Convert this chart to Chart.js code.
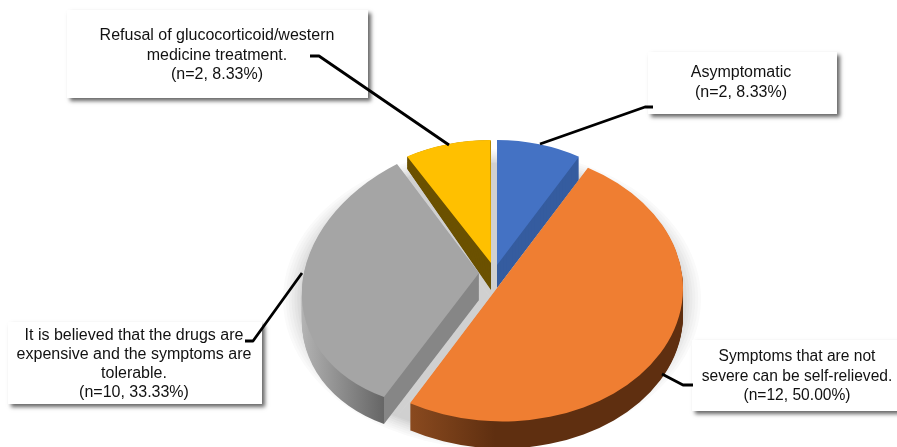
<!DOCTYPE html>
<html lang="en">
  <head>
    <meta charset="UTF-8" />
    <title>Reasons for not treating</title>
    <script src="https://cdn.jsdelivr.net/npm/chart.js"></script>
    <style>
      html, body { margin: 0; padding: 0; background: #fff; overflow: hidden; }
      #wrap { width: 897px; height: 447px; }
    </style>
  </head>
  <body>
    <div id="wrap"><canvas id="myChart" width="897" height="447"></canvas></div>

    <script>
      // data, clockwise from 12 o'clock
      const categories = ["Asymptomatic", "Symptoms not severe", "Drugs expensive", "Refusal of treatment"];
      const percents = [8.33, 50.0, 33.33, 8.33];
      const counts = [2, 12, 10, 2];
      const labelLines = [
        ["Asymptomatic"],
        ["Symptoms that are not", "severe can be self-relieved."],
        ["It is believed that the drugs are", "expensive and the symptoms are", "tolerable."],
        ["Refusal of glucocorticoid/western", "medicine treatment."],
      ];

      const topColors = ["#4472c4", "#ef7e32", "#a5a5a5", "#ffc000"];
      const wallColors = ["#355c9f", "#5f2f10", "#868686", "#6b5100"];

      // fake 3D: every slice gets its own flattening (apex + unit x / unit y vectors on screen)
      const sliceViews = [
        { x: 497, y: 265, ax: 164, ay: 0, bx: 0, by: 125, depth: 23, grow: 0 },
        { x: 499, y: 285.5, ax: 184, ay: 0, bx: 3.5, by: 136, depth: 27, grow: 0 },
        { x: 479, y: 273, ax: 177, ay: -15, bx: -7.5, by: 134.5, depth: 27, grow: 0 },
        { x: 491, y: 263, ax: 167, ay: 0, bx: 0.5, by: 123, depth: 27, grow: 17 },
      ];
      const drawOrder = [3, 0, 2, 1];

      // shadow under the pie: all slices closed up into one ellipse, pale ring first
      const shadowView = { x: 492, y: 299, ax: 190, ay: 0, bx: 0, by: 136 };
      const shadowRings = [
        [1.1, "#fafafa"], [1.085, "#f5f5f5"], [1.07, "#f0f0f0"], [1.055, "#eaeaea"],
        [1.04, "#e4e4e4"], [1.025, "#dddddd"], [1.01, "#d6d6d6"], [1.0, "#d0d0d0"],
      ];

      // label boxes: x, y, w, h, centre of text, first line y, line gap, font size
      const boxes = [
        { x: 648, y: 52, w: 189, h: 62, cx: 741, ty: 73, gap: 20, size: 16 },
        { x: 692, y: 340, w: 215, h: 71, cx: 797, ty: 357, gap: 19.5, size: 15.6 },
        { x: 8, y: 322, w: 254, h: 82, cx: 134, ty: 336, gap: 18.7, size: 16 },
        { x: 67, y: 10, w: 301, h: 88, cx: 217, ty: 36, gap: 19.5, size: 16 },
      ];
      const leaders = [
        [[653, 107], [645, 107], [540, 144]],
        [[693, 385], [683, 385], [662, 374]],
        [[245, 341], [253, 341], [302, 273]],
        [[310, 56], [319, 56], [449, 145]],
      ];

      function placeSlice(ctx, arc, v, dy, grow, scale) {
        const R = arc.outerRadius;
        ctx.translate(v.x, v.y + dy);
        ctx.transform((v.ax / R) * scale, (v.ay / R) * scale, (v.bx / R) * scale, ((v.by + grow) / R) * scale, 0, 0);
        ctx.translate(-arc.x, -arc.y);
      }

      function drawWith(ctx, arc, color) {
        const saved = arc.options;
        arc.options = Object.assign({}, saved, { backgroundColor: color });
        arc.draw(ctx);
        arc.options = saved;
      }

      function wallFill(ctx, arc, i) {
        const R = arc.outerRadius;
        const g = ctx.createLinearGradient(arc.x - R, arc.y, arc.x + R, arc.y);
        if (i === 1) {
          g.addColorStop(0, "#8a4a1f");
          g.addColorStop(0.25, "#8a4a1f");
          g.addColorStop(0.48, "#5f2f10");
          g.addColorStop(1, "#5f2f10");
          return g;
        }
        if (i === 2) {
          g.addColorStop(0, "#b4b4b4");
          g.addColorStop(0.249, "#666666");
          g.addColorStop(0.25, "#868686");
          g.addColorStop(1, "#868686");
          return g;
        }
        return wallColors[i];
      }

      const pie3d = {
        id: "pie3d",
        beforeDatasetsDraw(chart) {
          const ctx = chart.ctx;
          const arcs = chart.getDatasetMeta(0).data;

          shadowRings.forEach((ring) => {
            drawOrder.forEach((i) => {
              ctx.save();
              placeSlice(ctx, arcs[i], shadowView, 0, 0, ring[0]);
              drawWith(ctx, arcs[i], ring[1]);
              ctx.restore();
            });
          });

          drawOrder.forEach((i) => {
            const v = sliceViews[i];
            const arc = arcs[i];
            for (let d = v.depth; d >= 1; d--) {
              ctx.save();
              placeSlice(ctx, arc, v, d, (v.grow * d) / v.depth, 1);
              drawWith(ctx, arc, wallFill(ctx, arc, i));
              ctx.restore();
            }
            ctx.save();
            placeSlice(ctx, arc, v, 0, 0, 1);
            arc.draw(ctx);
            ctx.restore();
          });
          return false;
        },
        afterDraw(chart) {
          const ctx = chart.ctx;
          ctx.save();
          boxes.forEach((b, i) => {
            ctx.save();
            ctx.shadowColor = "rgba(0,0,0,0.6)";
            ctx.shadowBlur = 4;
            ctx.shadowOffsetX = 3;
            ctx.shadowOffsetY = 3;
            ctx.fillStyle = "#fff";
            ctx.fillRect(b.x, b.y, b.w, b.h);
            ctx.restore();

            const lines = labelLines[i].concat("(n=" + counts[i] + ", " + percents[i].toFixed(2) + "%)");
            ctx.fillStyle = "#111";
            ctx.font = b.size + 'px "Liberation Sans", Arial, sans-serif';
            ctx.textAlign = "center";
            ctx.textBaseline = "middle";
            lines.forEach((t, k) => ctx.fillText(t, b.cx, b.ty + k * b.gap));
          });

          ctx.strokeStyle = "#000";
          ctx.lineWidth = 2.8;
          ctx.lineJoin = "round";
          leaders.forEach((pts) => {
            ctx.beginPath();
            pts.forEach((p, k) => (k ? ctx.lineTo(p[0], p[1]) : ctx.moveTo(p[0], p[1])));
            ctx.stroke();
          });
          ctx.restore();
        },
      };

      new Chart(document.getElementById("myChart"), {
        type: "pie",
        data: {
          labels: categories,
          datasets: [{ data: percents, backgroundColor: topColors, borderWidth: 0 }],
        },
        options: {
          responsive: false,
          animation: false,
          plugins: { legend: { display: false }, tooltip: { enabled: false } },
        },
        plugins: [pie3d],
      });
    </script>
  </body>
</html>
